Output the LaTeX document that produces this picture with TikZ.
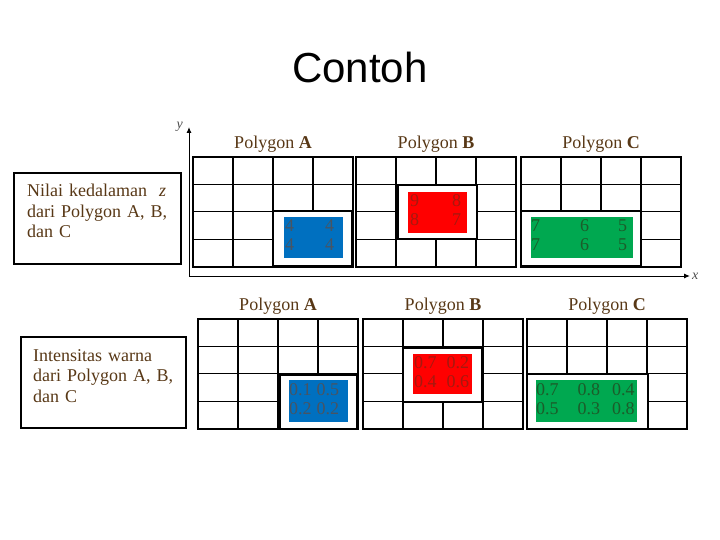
\documentclass[tikz,border=0pt]{standalone}
\usepackage{fontspec}
\setmainfont{Liberation Serif}
\newfontfamily\titlefont{Liberation Sans}
\usetikzlibrary{positioning, calc, arrows.meta}

\definecolor{labelbrown}{RGB}{88,56,22}
\definecolor{zblue}{RGB}{0,112,192}
\definecolor{zbluetext}{RGB}{72,84,98}
\definecolor{zred}{RGB}{255,0,0}
\definecolor{zredtext}{RGB}{165,25,15}
\definecolor{zgreen}{RGB}{0,168,80}
\definecolor{zgreentext}{RGB}{28,92,42}

\newcommand{\polygrid}[3]{%
  \node[polyframe, anchor=north west] (#1) at (#2,#3) {};
  \foreach \k in {1,2,3} {
    \draw[gridline] ($(#1.north west)!\k/4!(#1.north east)$) -- ($(#1.south west)!\k/4!(#1.south east)$);
    \draw[gridline] ($(#1.north west)!\k/4!(#1.south west)$) -- ($(#1.north east)!\k/4!(#1.south east)$);
  }
}

\begin{document}
\begin{tikzpicture}[
    x=1pt, y=-1pt,
    polyframe/.style={draw, line width=2pt, minimum width=160pt, minimum height=109.5pt,
        inner sep=0pt, outer sep=0pt},
    gridline/.style={line width=1.2pt},
    coverbox/.style={draw, fill=white, line width=2pt, inner sep=0pt, outer sep=0pt, anchor=north west},
    valfill/.style={fill=#1, inner sep=0pt, outer sep=0pt, anchor=north west},
    valtext/.style={text=#1, font=\fontsize{18}{19}\selectfont, inner sep=0pt},
    ptitle/.style={text=labelbrown, font=\fontsize{18}{20}\selectfont, inner sep=1pt},
    infobox/.style={draw, line width=2pt, anchor=north west, inner sep=0pt, outer sep=0pt},
    infotext/.style={text=labelbrown, font=\fontsize{18}{20.5}\selectfont, text width=150pt,
        align=left, inner sep=0pt, anchor=north west},
    axlabel/.style={text=gray!60!black, font=\itshape\fontsize{14}{14}\selectfont, inner sep=0pt},
    axis/.style={line width=1pt, -{Latex[length=6pt,width=5pt]}},
]
\useasboundingbox (0,0) rectangle (720,540);

\node[font=\titlefont\fontsize{42}{46}\selectfont, anchor=base] (title) at (360,83) {Contoh};

\coordinate (origin) at (189,276);
\coordinate (xtip) at (690,276);
\coordinate (ytip) at (189,127);
\draw[axis] (origin) -- (xtip);
\draw[axis] (origin) -- (ytip);
\node[axlabel, right=2pt of xtip] (xlab) {x};
\node[axlabel, left=6pt of ytip] (ylab) {y};

\node[infobox, minimum width=167pt, minimum height=91pt] (depthbox) at (14,173) {};
\node[infotext] (depthtext) at (27,184)
    {Nilai kedalaman\ \ \textit{z}\\dari Polygon A, B,\\dan C};

\polygrid{topA}{193}{157}
\polygrid{topB}{356}{157}
\polygrid{topC}{521}{157}
\node[ptitle, above=3pt of topA] (ttA) {Polygon\ \textbf{A}};
\node[ptitle, above=3pt of topB] (ttB) {Polygon\ \textbf{B}};
\node[ptitle, above=3pt of topC] (ttC) {Polygon\ \textbf{C}};

\node[coverbox, minimum width=79pt, minimum height=55pt] (coverTA) at (273,211) {};
\node[coverbox, minimum width=79pt, minimum height=54pt] (coverTB) at (398,185) {};
\node[coverbox, minimum width=120pt, minimum height=55pt] (coverTC) at (521,211) {};

\node[valfill=zblue, minimum width=59pt, minimum height=41pt] (fillTA) at (284,217) {};
\node[valfill=zred, minimum width=59pt, minimum height=41pt] (fillTB) at (408,192) {};
\node[valfill=zgreen, minimum width=102pt, minimum height=41pt] (fillTC) at (531,217) {};
\node[valtext=zbluetext, right=1pt of fillTA.west] (zA)
    {\begin{tabular}{@{}l@{\hspace{31pt}}l@{}}4&4\\4&4\end{tabular}};
\node[valtext=zredtext, right=2pt of fillTB.west] (zB)
    {\begin{tabular}{@{}l@{\hspace{33pt}}l@{}}9&8\\8&7\end{tabular}};
\node[valtext=zgreentext, right=0pt of fillTC.west] (zC)
    {\begin{tabular}{@{}l@{\hspace{40pt}}l@{\hspace{29pt}}l@{}}7&6&5\\7&6&5\end{tabular}};

\node[infobox, minimum width=165pt, minimum height=91pt] (colourbox) at (21,337) {};
\node[infotext] (colourtext) at (33,349)
    {Intensitas warna\\dari Polygon A, B,\\dan C};

\polygrid{botA}{198}{319}
\polygrid{botB}{363}{319}
\polygrid{botC}{527}{319}
\node[ptitle, above=3pt of botA] (btA) {Polygon\ \textbf{A}};
\node[ptitle, above=3pt of botB] (btB) {Polygon\ \textbf{B}};
\node[ptitle, above=3pt of botC] (btC) {Polygon\ \textbf{C}};

\node[coverbox, minimum width=77pt, minimum height=54pt] (coverBA) at (280,375) {};
\node[coverbox, line width=1.2pt, minimum width=79pt, minimum height=54pt] (coverBB) at (403,348) {};
\node[coverbox, minimum width=121pt, minimum height=55pt] (coverBC) at (527,374) {};

\node[valfill=zblue, minimum width=59pt, minimum height=42pt] (fillBA) at (289,380) {};
\node[valfill=zred, minimum width=59pt, minimum height=40pt] (fillBB) at (413,354) {};
\node[valfill=zgreen, minimum width=101pt, minimum height=42pt] (fillBC) at (536,380) {};
\node[valtext=zbluetext, right=0pt of fillBA.west] (iA)
    {\begin{tabular}{@{}l@{\hspace{5pt}}l@{}}0.1&0.5\\0.2&0.2\end{tabular}};
\node[valtext=zredtext, right=1pt of fillBB.west] (iB)
    {\begin{tabular}{@{}l@{\hspace{10pt}}l@{}}0.7&0.2\\0.4&0.6\end{tabular}};
\node[valtext=zgreentext, right=0pt of fillBC.west] (iC)
    {\begin{tabular}{@{}l@{\hspace{19pt}}l@{\hspace{12pt}}l@{}}0.7&0.8&0.4\\0.5&0.3&0.8\end{tabular}};
\end{tikzpicture}
\end{document}
